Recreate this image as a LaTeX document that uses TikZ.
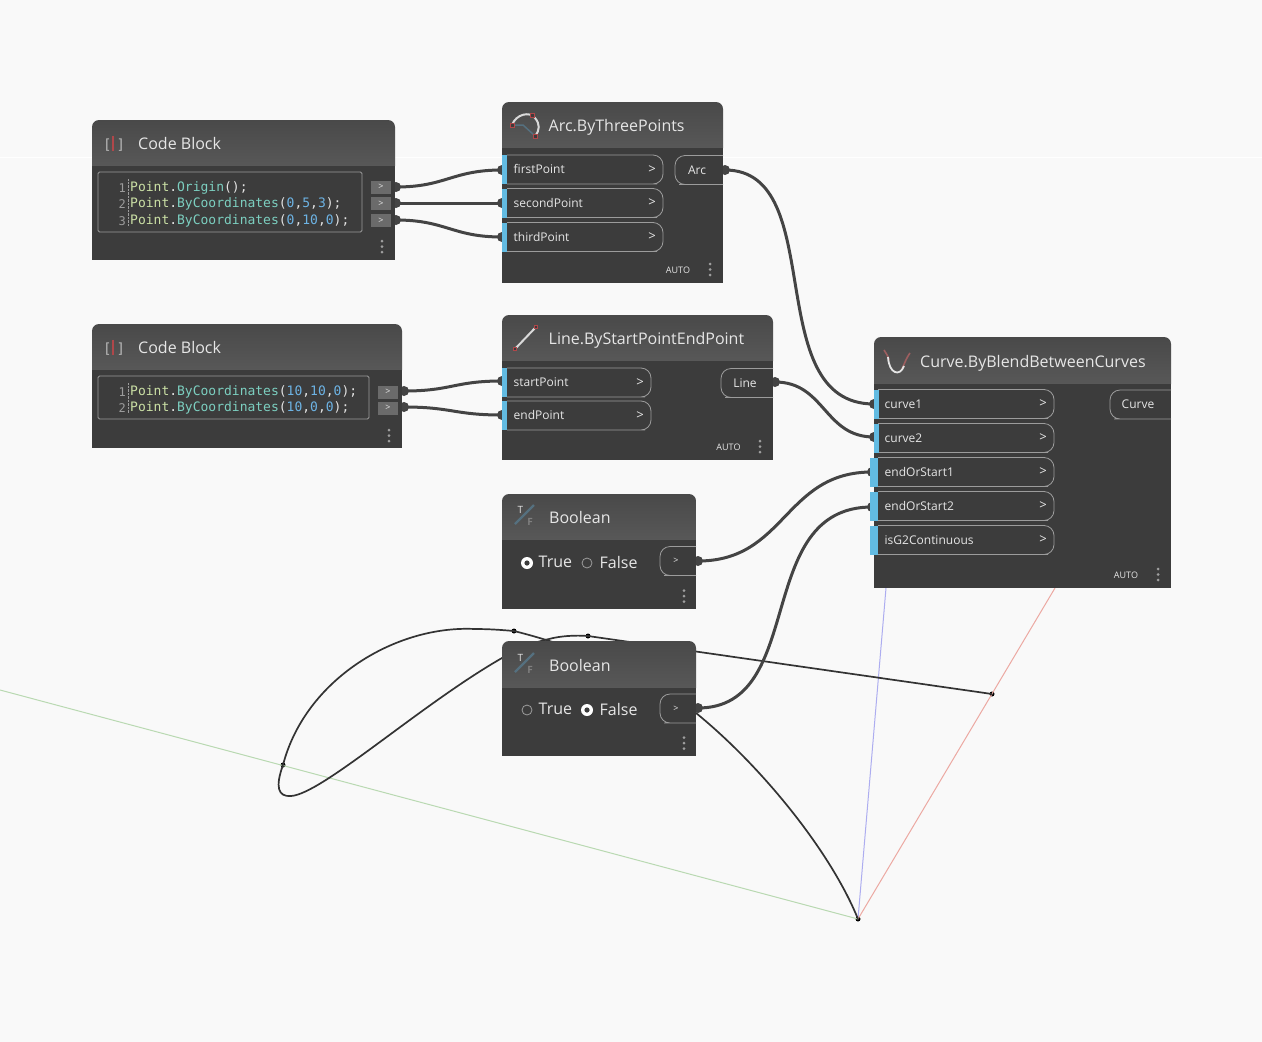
\documentclass[tikz,border=0pt]{standalone}
\usepackage{fontspec}
\setmainfont{Open Sans}
\newfontfamily\codefont{DejaVu Sans Mono}
\definecolor{canvas}{HTML}{F9F9F9}
\definecolor{bodygray}{HTML}{3C3C3C}
\definecolor{headtop}{HTML}{494949}
\definecolor{headbot}{HTML}{585858}
\definecolor{wiregray}{HTML}{444444}
\definecolor{portblue}{HTML}{62BBE2}
\definecolor{edgegray}{HTML}{9C9C9C}
\definecolor{labelgray}{HTML}{E6E6E6}
\definecolor{codetype}{HTML}{CBE0A5}
\definecolor{codefunc}{HTML}{7CCFC0}
\definecolor{codenum}{HTML}{6DB3E4}
\definecolor{codeplain}{HTML}{E4E4E4}
\definecolor{geomdark}{HTML}{333333}
\definecolor{iconred}{HTML}{B0474A}
\definecolor{iconslate}{HTML}{55707F}
\definecolor{axisgreen}{HTML}{B9D9B2}
\definecolor{axisblue}{HTML}{ADADF0}
\definecolor{axisred}{HTML}{ECA9A2}
\begin{document}
\begin{tikzpicture}[x=1pt, y=-1pt,
	blockbody/.style={fill=bodygray, inner sep=0pt, anchor=north west},
	title/.style={font=\fontsize{16}{18}\selectfont, text=labelgray, anchor=west, inner sep=0pt, text height=12pt, text depth=0pt},
	portlabel/.style={font=\fontsize{12}{14}\selectfont, text=labelgray, anchor=west, inner sep=0pt, text height=10pt, text depth=2pt},
	chevron/.style={font=\fontsize{13}{14}\selectfont, text=labelgray, inner sep=0pt},
	pill/.style={draw=edgegray, line width=0.8pt},
	pin/.style={circle, fill=wiregray, inner sep=0pt, minimum size=10pt},
	wire/.style={draw=wiregray, line width=3pt},
	codeline/.style={font=\fontsize{13}{15}\codefont, text=codeplain, anchor=west, inner sep=0pt, text height=10.5pt, text depth=2.5pt},
	lineno/.style={font=\fontsize{12}{15}\codefont, text=edgegray, anchor=east, inner sep=0pt},
	autolabel/.style={font=\fontsize{9}{10}\selectfont, text=labelgray, inner sep=0pt},
	radio/.style={font=\fontsize{16}{18}\selectfont, text=labelgray, anchor=west, inner sep=0pt},
	axisline/.style={line width=1pt},
	geom/.style={draw=geomdark, line width=1.7pt},
	vertex/.style={circle, fill=black, inner sep=0pt, minimum size=5pt},
	]
	\useasboundingbox (0,0) rectangle (1262,1042);
	\fill[canvas] (0,0) rectangle (1262,1042);
	\draw[white, line width=1pt] (0,157) -- (1262,157);

	% geometry preview
	\node[vertex] (origin) at (858,919) {};
	\node[vertex] (arcmid) at (514,631) {};
	\node[vertex] (arcend) at (283,765) {};
	\node[vertex] (linestart) at (588,636) {};
	\node[vertex] (lineend) at (992,694) {};
	\coordinate (xaxis) at (1055,588);
	\coordinate (yaxis) at (0,690);
	\coordinate (zaxis) at (886,588);
	\draw[axisline, draw=axisgreen] (yaxis) -- (origin.center);
	\draw[axisline, draw=axisblue] (zaxis) -- (origin.center);
	\draw[axisline, draw=axisred] (xaxis) -- (origin.center);
	\draw[geom] (arcend.center) .. controls (305,680) and (395,625) .. (475,629)
		.. controls (490,629) and (502,630) .. (arcmid.center)
		.. controls (590,650) and (650,680) .. (696,713)
		.. controls (760,765) and (830,850) .. (origin.center);
	\draw[geom] (linestart.center) -- (lineend.center);
	\draw[geom] (arcend.center) .. controls (275,787) and (278,797) .. (291,796)
		.. controls (322,794) and (420,705) .. (502,658)
		.. controls (520,648) and (535,642) .. (549,639)
		.. controls (560,636) and (575,635) .. (linestart.center);

	% pins
	\foreach \nm/\x/\y in {cbaout/396/187, cbbout/396/203, cbcout/396/220, cbdout/404/391, cbeout/404/407,
		arcin/502/170, arcinb/502/203, arcinc/502/237, arcout/725/170,
		linein/502/381, lineinb/502/415, lineout/775/382,
		boolaout/698/561, boolbout/698/708,
		blenda/874/404, blendb/874/437, blendc/872/472, blendd/872/507}
		{\node[pin] (\nm) at (\x,\y) {};}

	% wires
	\draw[wire] (cbaout.center) .. controls +(50,0) and +(-50,0) .. (arcin.center);
	\draw[wire] (cbbout.center) -- (arcinb.center);
	\draw[wire] (cbcout.center) .. controls +(50,0) and +(-50,0) .. (arcinc.center);
	\draw[wire] (cbdout.center) .. controls +(48,0) and +(-48,0) .. (linein.center);
	\draw[wire] (cbeout.center) .. controls +(48,0) and +(-48,0) .. (lineinb.center);
	\draw[wire] (arcout.center) .. controls +(105,0) and +(-115,0) .. (blenda.center);
	\draw[wire] (lineout.center) .. controls +(50,0) and +(-50,0) .. (blendb.center);
	\draw[wire] (boolaout.center) .. controls +(88,0) and +(-88,0) .. (blendc.center);
	\draw[wire] (boolbout.center) .. controls +(110,0) and +(-120,0) .. (blendd.center);

	% blocks
	\foreach \nm/\x/\y/\w/\h/\hd/\tx/\txt in {
		cba/92/120/303/140/46/138/Code Block,
		cbb/92/324/310/124/46/138/Code Block,
		arc/502/102/221/181/46/548.5/Arc.ByThreePoints,
		line/502/315/271/145/46/548.5/Line.ByStartPointEndPoint,
		blend/874/337/297/251/47/920/Curve.ByBlendBetweenCurves,
		boola/502/494/194/115/46/549/Boolean,
		boolb/502/641/194/115/47/549/Boolean}
	{
		\path[top color=headtop, bottom color=headbot] (\x,\y+\hd) -- (\x,\y+20) [rounded corners=7pt] -- (\x,\y) -- (\x+\w,\y) -- (\x+\w,\y+20) [sharp corners] -- (\x+\w,\y+\hd) -- cycle;
		\fill[bodygray] (\x,\y+\hd) rectangle (\x+\w,\y+\h);
		\node[title] (\nm title) at (\tx,\y+\hd-23) {\txt};
	}

	% input ports
	\foreach \nm/\xa/\xb/\yc/\lab in {
		first/507/663/169.5/firstPoint, second/507/663/203/secondPoint, third/507/663/237/thirdPoint,
		start/507/651/382.5/startPoint, endp/507/651/415.5/endPoint,
		cvone/878/1054/404/curve1, cvtwo/878/1054/438/curve2, eosa/878/1054/472/endOrStart1,
		eosb/878/1054/506/endOrStart2, isgtwo/878/1054/540/isG2Continuous}
	{
		\draw[pill] (\xa,\yc-14.5) -- (\xb-16,\yc-14.5) [rounded corners=10pt] -- (\xb,\yc-14.5) -- (\xb,\yc+14.5) -- (\xb-16,\yc+14.5) [sharp corners] -- (\xa,\yc+14.5);
		\node[portlabel] (\nm) at (\xa+6.5,\yc+0.3) {\lab};
		\node[chevron] (\nm chev) at (\xb-11,\yc) {>};
	}
	\foreach \xl/\yc in {502/169.5, 502/203, 502/237, 502/382.5, 502/415.5, 874/404, 874/438}
		{\fill[portblue] (\xl,\yc-14.5) rectangle (\xl+5,\yc+14.5);}
	\foreach \yc in {472, 506, 540}
		{\fill[portblue] (870,\yc-14.5) rectangle (878,\yc+14.5);}

	% output ports
	\foreach \nm/\xa/\xb/\xt/\yc/\lab in {
		arcres/675/723/697/170/Arc, lineres/721/773/745/383/Line, curveres/1110/1171/1138/404.5/Curve}
	{
		\draw[pill] (\xb,\yc-14.5) -- (\xa+14,\yc-14.5) [rounded corners=10pt] -- (\xa,\yc-14.5) -- (\xa,\yc+14.5) -- (\xa+14,\yc+14.5) [sharp corners] -- (\xb,\yc+14.5);
		\node[portlabel, anchor=center] (\nm) at (\xt,\yc) {\lab};
	}
	\foreach \nm/\yc in {boolares/561, boolbres/708.5}
	{
		\draw[pill] (696,\yc-14.5) -- (674,\yc-14.5) [rounded corners=10pt] -- (660,\yc-14.5) -- (660,\yc+14.5) -- (674,\yc+14.5) [sharp corners] -- (696,\yc+14.5);
		\node[chevron, font=\fontsize{9}{10}\selectfont] (\nm) at (676,\yc) {>};
	}

	% code blocks
	\draw[pill, rounded corners=1.5pt] (98,172) rectangle (362,232);
	\draw[pill, rounded corners=1.5pt] (98,376) rectangle (369,419);
	\draw[edgegray, densely dotted, line width=0.4pt] (128,179) -- (128,226);
	\draw[edgegray, densely dotted, line width=0.4pt] (128,383) -- (128,413);
	\foreach \n/\y in {1/187, 2/203, 3/220, 1/391, 2/407}
		{\node[lineno] (no\n at \y) at (126,\y+1) {\n};}
	\node[codeline] (codea) at (130,187) {\textcolor{codetype}{Point}.\textcolor{codefunc}{Origin}();};
	\node[codeline] (codeb) at (130,203) {\textcolor{codetype}{Point}.\textcolor{codefunc}{ByCoordinates}(\textcolor{codenum}{0},\textcolor{codenum}{5},\textcolor{codenum}{3});};
	\node[codeline] (codec) at (130,220) {\textcolor{codetype}{Point}.\textcolor{codefunc}{ByCoordinates}(\textcolor{codenum}{0},\textcolor{codenum}{10},\textcolor{codenum}{0});};
	\node[codeline] (coded) at (130,391) {\textcolor{codetype}{Point}.\textcolor{codefunc}{ByCoordinates}(\textcolor{codenum}{10},\textcolor{codenum}{10},\textcolor{codenum}{0});};
	\node[codeline] (codee) at (130,407) {\textcolor{codetype}{Point}.\textcolor{codefunc}{ByCoordinates}(\textcolor{codenum}{10},\textcolor{codenum}{0},\textcolor{codenum}{0});};
	\foreach \x/\y in {371/187, 371/203.5, 371/220.5, 378/392, 378/408}
	{
		\fill[black!58] (\x,\y-6.5) rectangle (\x+20,\y+6.5);
		\node[chevron, font=\fontsize{9}{10}\selectfont] (box\x at \y) at (\x+10,\y) {>};
	}

	% auto labels and menu dots
	\node[autolabel] (autoarc) at (678,270) {AUTO};
	\node[autolabel] (autoline) at (728.5,447) {AUTO};
	\node[autolabel] (autoblend) at (1126,575) {AUTO};
	\foreach \x/\y in {382/246.5, 389/435.5, 710/269.5, 760/446.5, 1158/574.5, 684/596, 684/743}
		\foreach \d in {-5.5,0,5.5}
			{\fill[gray!75] (\x,\y+\d) circle (1.5pt);}

	% radio buttons
	\fill[white] (527,563) circle (6pt);
	\fill[bodygray] (527,563) circle (2.6pt);
	\draw[edgegray, line width=0.8pt] (587,563) circle (5pt);
	\node[radio] (truea) at (538.5,562) {True};
	\node[radio] (falsea) at (599.5,562) {False};
	\draw[edgegray, line width=0.8pt] (527,710) circle (5pt);
	\fill[white] (587,710) circle (6pt);
	\fill[bodygray] (587,710) circle (2.6pt);
	\node[radio] (trueb) at (538.5,709) {True};
	\node[radio] (falseb) at (599.5,709) {False};

	% icons
	\foreach \y in {143, 347}
	{
		\node[title, text=labelgray!80!black, font=\fontsize{14}{16}\selectfont\codefont] (brl\y) at (103,\y) {[};
		\node[title, text=labelgray!80!black, font=\fontsize{14}{16}\selectfont\codefont] (brr\y) at (116.5,\y) {]};
		\draw[iconred, line width=1.4pt] (113,\y-7.5) -- (113,\y+8);
	}
	\draw[iconslate, line width=1.5pt] (513,125) -- (523,125) -- (534,135);
	\draw[white!85!black, line width=2pt] (512,125) .. controls (516,114) and (530,111) .. (535,118) .. controls (540,124) and (540,130) .. (535,136);
	\foreach \x/\y in {512.5/125, 532/115, 535/136}
		{\draw[iconred, line width=0.9pt, fill=bodygray] (\x-2,\y-2) rectangle (\x+2,\y+2);}
	\draw[white!85!black, line width=2pt] (514,350) -- (536,327);
	\foreach \x/\y in {514.5/349, 536/327}
		{\draw[iconred, line width=0.9pt, fill=bodygray] (\x-1.5,\y-1.5) rectangle (\x+1.5,\y+1.5);}
	\draw[iconred!60!gray, line width=1.6pt] (884,350) .. controls (886,353) and (888,356) .. (889,360);
	\draw[iconred!60!gray, line width=1.6pt] (902,369) .. controls (905,362) and (907,357) .. (910,353);
	\draw[white!90!black, line width=1.8pt] (888,357) .. controls (889,374) and (900,377) .. (904,366);
	\foreach \y in {516, 664}
	{
		\draw[iconslate, line width=2.4pt] (515,\y+8) -- (534,\y-11);
		\node[autolabel, font=\fontsize{10}{11}\selectfont, text=white!90!black] (ict\y) at (520.5,\y-6) {T};
		\node[autolabel, font=\fontsize{10}{11}\selectfont\bfseries, text=gray] (icf\y) at (530,\y+5.5) {F};
	}
\end{tikzpicture}
\end{document}
